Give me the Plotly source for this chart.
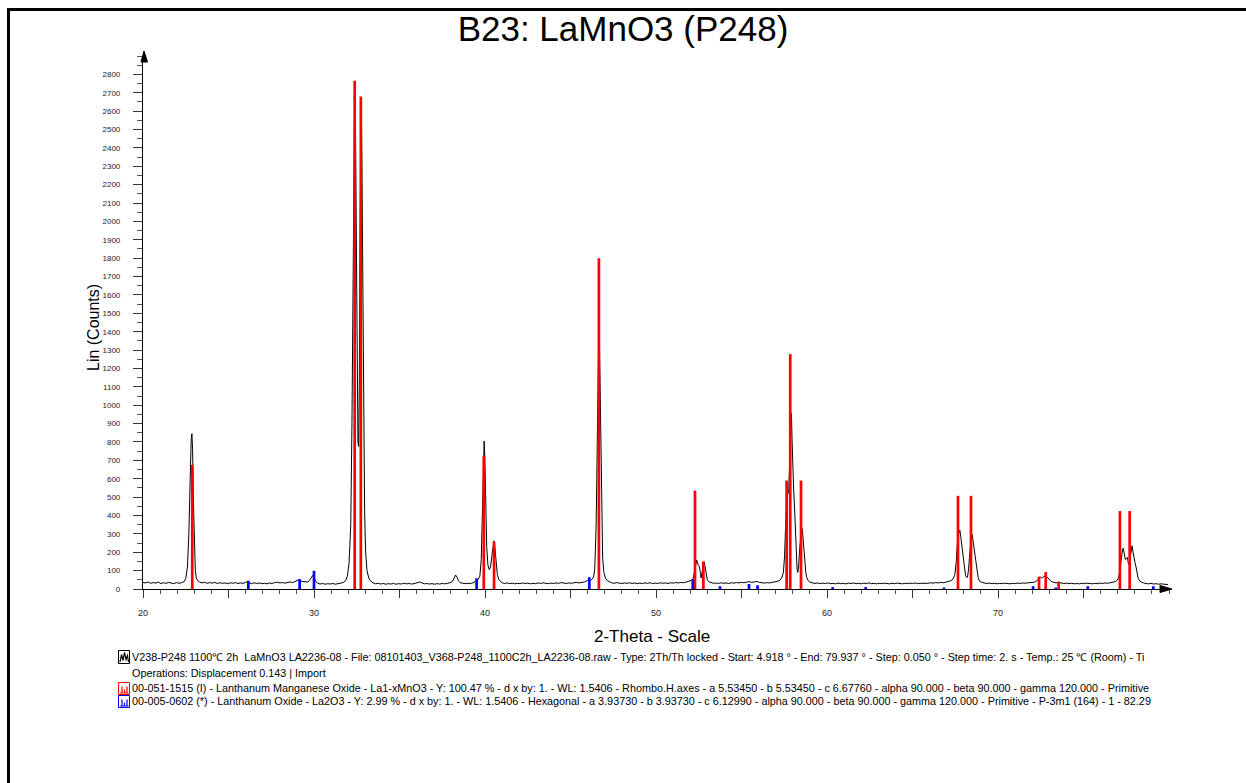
import plotly.graph_objects as go

# ---------------- data ----------------
# measured scan (2-theta, counts)
scan_points = [
    (20.00, 36), (20.15, 33), (20.30, 38), (20.45, 31), (20.60, 35), (20.75, 32), (20.90, 37), (21.05, 30),
    (21.20, 34), (21.35, 31), (21.50, 36), (21.65, 33), (21.80, 29), (21.95, 35), (22.10, 31), (22.25, 34),
    (22.40, 40), (22.50, 58), (22.60, 120), (22.68, 300), (22.75, 620), (22.82, 820), (22.86, 845), (22.90, 760),
    (22.95, 480), (23.00, 220), (23.06, 100), (23.12, 60), (23.20, 45), (23.30, 38), (23.45, 33), (23.60, 37),
    (23.75, 31), (23.90, 35), (24.05, 32), (24.20, 36), (24.35, 30), (24.50, 34), (24.65, 31), (24.80, 33),
    (24.95, 29), (25.10, 34), (25.25, 31), (25.40, 35), (25.55, 30), (25.70, 33), (25.85, 31), (26.00, 36),
    (26.10, 40), (26.20, 33), (26.35, 29), (26.50, 34), (26.65, 30), (26.80, 33), (26.95, 29), (27.10, 31),
    (27.25, 28), (27.40, 33), (27.55, 30), (27.70, 35), (27.85, 37), (28.00, 33), (28.15, 35), (28.30, 32),
    (28.45, 36), (28.60, 38), (28.75, 35), (28.90, 40), (29.00, 44), (29.10, 50), (29.20, 42), (29.35, 40),
    (29.50, 36), (29.65, 38), (29.75, 48), (29.85, 62), (29.93, 74), (30.00, 66), (30.08, 45), (30.20, 32),
    (30.35, 27), (30.50, 30), (30.65, 26), (30.80, 29), (30.95, 27), (31.10, 30), (31.25, 26), (31.40, 29),
    (31.55, 32), (31.70, 35), (31.85, 45), (31.95, 70), (32.05, 140), (32.15, 350), (32.22, 900), (32.28, 1800),
    (32.34, 2500), (32.38, 2745), (32.42, 2600), (32.47, 1900), (32.52, 1200), (32.57, 800), (32.61, 775),
    (32.65, 1100), (32.69, 1900), (32.73, 2550), (32.76, 2660), (32.80, 2350), (32.85, 1600), (32.90, 900),
    (32.96, 420), (33.02, 200), (33.10, 100), (33.20, 60), (33.32, 42), (33.45, 33), (33.60, 28), (33.75, 31),
    (33.90, 27), (34.05, 30), (34.20, 26), (34.35, 29), (34.50, 27), (34.65, 30), (34.80, 26), (34.95, 29),
    (35.10, 27), (35.25, 31), (35.40, 28), (35.55, 30), (35.70, 27), (35.85, 29), (36.00, 31), (36.10, 36),
    (36.20, 38), (36.30, 33), (36.45, 28), (36.60, 30), (36.75, 27), (36.90, 29), (37.05, 26), (37.20, 29),
    (37.35, 27), (37.50, 30), (37.65, 28), (37.80, 31), (37.95, 34), (38.10, 42), (38.20, 60), (38.28, 76),
    (38.36, 65), (38.45, 45), (38.55, 34), (38.70, 30), (38.85, 29), (39.00, 31), (39.15, 30), (39.30, 34),
    (39.40, 38), (39.50, 46), (39.60, 52), (39.70, 70), (39.78, 160), (39.85, 420), (39.91, 700), (39.95, 805),
    (39.99, 720), (40.04, 450), (40.10, 230), (40.17, 130), (40.25, 105), (40.32, 120), (40.40, 190),
    (40.47, 250), (40.52, 262), (40.57, 235), (40.64, 150), (40.72, 80), (40.80, 52), (40.90, 40), (41.00, 34),
    (41.15, 30), (41.30, 33), (41.45, 29), (41.60, 32), (41.75, 28), (41.90, 31), (42.05, 29), (42.20, 33),
    (42.35, 30), (42.50, 32), (42.65, 28), (42.80, 31), (42.95, 29), (43.10, 33), (43.25, 30), (43.40, 34),
    (43.55, 31), (43.70, 29), (43.85, 32), (44.00, 30), (44.15, 33), (44.30, 31), (44.45, 35), (44.60, 32),
    (44.75, 30), (44.90, 33), (45.05, 31), (45.20, 34), (45.35, 36), (45.50, 33), (45.65, 35), (45.80, 38),
    (45.95, 44), (46.05, 50), (46.15, 46), (46.25, 52), (46.35, 65), (46.42, 110), (46.50, 350), (46.57, 850),
    (46.62, 1300), (46.66, 1432), (46.70, 1300), (46.75, 900), (46.81, 420), (46.88, 170), (46.95, 90),
    (47.05, 58), (47.15, 45), (47.28, 38), (47.40, 34), (47.55, 31), (47.70, 35), (47.85, 32), (48.00, 30),
    (48.15, 33), (48.30, 31), (48.45, 34), (48.60, 30), (48.75, 33), (48.90, 29), (49.05, 32), (49.20, 30),
    (49.35, 33), (49.50, 31), (49.65, 34), (49.80, 30), (49.95, 32), (50.10, 30), (50.25, 34), (50.40, 31),
    (50.55, 33), (50.70, 30), (50.85, 34), (51.00, 32), (51.15, 35), (51.30, 33), (51.45, 36), (51.60, 34),
    (51.75, 37), (51.90, 40), (52.00, 43), (52.10, 48), (52.18, 60), (52.25, 95), (52.32, 140), (52.38, 158),
    (52.45, 135), (52.54, 121), (52.60, 85), (52.64, 60), (52.70, 95), (52.76, 140), (52.81, 148), (52.87, 120),
    (52.94, 75), (53.00, 50), (53.08, 40), (53.20, 34), (53.35, 31), (53.50, 33), (53.65, 30), (53.80, 34),
    (53.95, 31), (54.10, 33), (54.25, 30), (54.40, 34), (54.55, 32), (54.70, 35), (54.85, 33), (55.00, 36),
    (55.15, 34), (55.30, 37), (55.45, 40), (55.60, 36), (55.75, 38), (55.90, 41), (56.05, 36), (56.20, 34),
    (56.35, 32), (56.50, 35), (56.65, 33), (56.80, 36), (56.95, 38), (57.10, 42), (57.25, 48), (57.35, 60),
    (57.45, 90), (57.52, 180), (57.58, 350), (57.64, 480), (57.70, 515), (57.76, 525), (57.82, 700),
    (57.88, 930), (57.92, 957), (57.96, 800), (58.00, 640), (58.05, 540), (58.10, 447), (58.15, 300),
    (58.20, 170), (58.25, 105), (58.29, 90), (58.34, 120), (58.40, 220), (58.47, 300), (58.53, 332),
    (58.58, 300), (58.64, 230), (58.70, 150), (58.76, 90), (58.82, 62), (58.90, 45), (59.00, 37), (59.15, 33),
    (59.30, 30), (59.45, 33), (59.60, 29), (59.75, 32), (59.90, 30), (60.05, 33), (60.20, 29), (60.35, 31),
    (60.50, 28), (60.65, 32), (60.80, 29), (60.95, 31), (61.10, 28), (61.25, 32), (61.40, 30), (61.55, 33),
    (61.70, 29), (61.85, 31), (62.00, 28), (62.15, 32), (62.30, 30), (62.45, 33), (62.60, 29), (62.75, 31),
    (62.90, 28), (63.05, 31), (63.20, 29), (63.35, 32), (63.50, 30), (63.65, 28), (63.80, 31), (63.95, 29),
    (64.10, 32), (64.25, 30), (64.40, 28), (64.55, 31), (64.70, 29), (64.85, 32), (65.00, 30), (65.15, 33),
    (65.30, 29), (65.45, 31), (65.60, 30), (65.75, 33), (65.90, 31), (66.05, 34), (66.20, 32), (66.35, 35),
    (66.50, 33), (66.65, 36), (66.80, 34), (66.95, 37), (67.10, 40), (67.25, 45), (67.38, 55), (67.48, 80),
    (67.56, 150), (67.63, 260), (67.70, 300), (67.77, 320), (67.83, 280), (67.90, 220), (67.97, 168),
    (68.03, 120), (68.10, 75), (68.17, 62), (68.22, 65), (68.28, 110), (68.35, 200), (68.42, 270), (68.49, 296),
    (68.56, 250), (68.63, 200), (68.70, 175), (68.77, 110), (68.84, 62), (68.92, 43), (69.05, 36), (69.20, 33),
    (69.35, 30), (69.50, 32), (69.65, 29), (69.80, 31), (69.95, 28), (70.10, 31), (70.25, 29), (70.40, 32),
    (70.55, 30), (70.70, 28), (70.85, 31), (71.00, 29), (71.15, 32), (71.30, 30), (71.45, 33), (71.60, 31),
    (71.75, 34), (71.90, 33), (72.05, 36), (72.15, 38), (72.25, 42), (72.32, 50), (72.40, 62), (72.48, 65),
    (72.55, 60), (72.62, 64), (72.70, 70), (72.78, 72), (72.86, 66), (72.94, 58), (73.02, 48), (73.10, 42),
    (73.20, 38), (73.30, 35), (73.40, 33), (73.55, 36), (73.70, 32), (73.85, 30), (74.00, 32), (74.15, 29),
    (74.30, 31), (74.45, 28), (74.60, 30), (74.75, 28), (74.90, 31), (75.05, 29), (75.20, 32), (75.35, 30),
    (75.50, 28), (75.65, 31), (75.80, 29), (75.95, 32), (76.10, 30), (76.25, 33), (76.40, 31), (76.55, 34),
    (76.70, 36), (76.85, 40), (76.95, 46), (77.05, 60), (77.13, 100), (77.20, 160), (77.26, 200), (77.32, 222),
    (77.38, 200), (77.45, 160), (77.50, 165), (77.56, 172), (77.62, 140), (77.67, 130), (77.73, 170),
    (77.79, 225), (77.84, 235), (77.90, 200), (77.96, 160), (78.01, 145), (78.07, 120), (78.13, 85),
    (78.20, 58), (78.30, 42), (78.40, 36), (78.50, 33), (78.65, 30), (78.80, 28), (78.95, 31), (79.10, 27),
    (79.25, 29), (79.40, 26), (79.55, 28), (79.70, 25), (79.85, 26), (79.94, 24),
]
scan_2theta = [p[0] for p in scan_points]
scan_counts = [p[1] for p in scan_points]

# 00-051-1515 Lanthanum Manganese Oxide (red sticks)
lmo_2theta = [22.88, 32.38, 32.74, 39.93, 40.53, 46.66, 52.28, 52.77, 57.64, 57.85, 58.48,
              67.66, 68.42, 72.40, 72.79, 73.55, 77.13, 77.70]
lmo_counts = [675, 2765, 2680, 725, 257, 1800, 535, 150, 590, 1278, 590,
              507, 507, 67, 92, 40, 424, 424]

# 00-005-0602 Lanthanum Oxide (blue sticks)
lao_2theta = [26.16, 29.16, 30.00, 39.51, 46.10, 52.15, 53.74, 55.44, 55.94, 60.33, 62.26,
              66.84, 72.05, 73.38, 75.25, 79.08]
lao_counts = [45, 54, 99, 58, 64, 53, 15, 27, 20, 10, 10, 8, 15, 8, 15, 15]

x_major_ticks = [20, 25, 30, 35, 40, 45, 50, 55, 60, 65, 70, 75]
x_major_labels = ["20", "", "30", "", "40", "", "50", "", "60", "", "70", ""]
y_ticks = list(range(0, 2900, 100))
y_labels = [str(v) for v in y_ticks]

title_text = "B23: LaMnO3 (P248)"
legend_lines = [
    "V238-P248 1100\u2103 2h\u00a0 LaMnO3 LA2236-08 - File: 08101403_V368-P248_1100C2h_LA2236-08.raw - Type: 2Th/Th locked - Start: 4.918 \u00b0 - End: 79.937 \u00b0 - Step: 0.050 \u00b0 - Step time: 2. s - Temp.: 25 \u2103 (Room) - Ti",
    "Operations: Displacement 0.143 | Import",
    "00-051-1515 (I) - Lanthanum Manganese Oxide - La1-xMnO3 - Y: 100.47 % - d x by: 1. - WL: 1.5406 - Rhombo.H.axes - a 5.53450 - b 5.53450 - c 6.67760 - alpha 90.000 - beta 90.000 - gamma 120.000 - Primitive",
    "00-005-0602 (*) - Lanthanum Oxide - La2O3 - Y: 2.99 % - d x by: 1. - WL: 1.5406 - Hexagonal - a 3.93730 - b 3.93730 - c 6.12990 - alpha 90.000 - beta 90.000 - gamma 120.000 - Primitive - P-3m1 (164) - 1 - 82.29",
]

# ---------------- layout geometry ----------------
W, H = 1246, 783
L, R, T, B = 143, 77, 56, 194
PW = W - L - R
PH = H - T - B


def px(x):
    return (x - L) / PW


def py(y):
    return 1 - (y - T) / PH


def sticks(pos, val):
    xs, ys = [], []
    for p, v in zip(pos, val):
        xs += [p, p, None]
        ys += [0, v, None]
    return xs, ys


FONT = "Liberation Sans, Arial, sans-serif"

fig = go.Figure()
fig.add_trace(go.Scatter(x=scan_2theta, y=scan_counts, mode="lines",
                         line=dict(color="black", width=1), hoverinfo="skip"))
rx, ry = sticks(lmo_2theta, lmo_counts)
fig.add_trace(go.Scatter(x=rx, y=ry, mode="lines", line=dict(color="#ff0000", width=2.7),
                         connectgaps=False, hoverinfo="skip"))
bx, by = sticks(lao_2theta, lao_counts)
fig.add_trace(go.Scatter(x=bx, y=by, mode="lines", line=dict(color="#0000ff", width=2.7),
                         connectgaps=False, hoverinfo="skip"))

shapes = []
# outer frame (left and top edges visible)
shapes.append(dict(type="line", xref="paper", yref="paper", x0=px(8.5), y0=py(790), x1=px(8.5), y1=py(9.5),
                   line=dict(color="black", width=3)))
shapes.append(dict(type="line", xref="paper", yref="paper", x0=px(7), y0=py(9.5), x1=px(1250), y1=py(9.5),
                   line=dict(color="black", width=3)))
# axis arrows
shapes.append(dict(type="path", xref="paper", yref="paper",
                   path=f"M {px(141)} {py(62)} L {px(144)} {py(51)} L {px(147.5)} {py(62)} Z",
                   fillcolor="black", line=dict(color="black", width=1)))
shapes.append(dict(type="path", xref="paper", yref="paper",
                   path=f"M {px(1160)} {py(585.5)} L {px(1172)} {py(589)} L {px(1160)} {py(592.5)} Z",
                   fillcolor="black", line=dict(color="black", width=1)))

# legend icons
icon_x0, icon_x1 = 118.5, 129.5
icon_rows = [(650.5, 663.5, "black", "wave"), (682.5, 694.5, "#ff0000", "sticks"), (695.5, 707.5, "#0000ff", "sticks")]
for y0, y1, col, kind in icon_rows:
    shapes.append(dict(type="rect", xref="paper", yref="paper", x0=px(icon_x0), x1=px(icon_x1),
                       y0=py(y1), y1=py(y0), line=dict(color=col, width=1), fillcolor="rgba(0,0,0,0)"))
    if kind == "wave":
        pts = [(120, y1 - 1.5), (121.5, y0 + 4), (123, y1 - 3), (124.5, y0 + 2), (126, y1 - 4), (127.5, y0 + 5), (128.5, y1 - 1.5)]
        path = "M " + " L ".join(f"{px(a)} {py(b)}" for a, b in pts)
    else:
        yb = y1 - 1.5
        path = (f"M {px(120)} {py(yb)} L {px(128.5)} {py(yb)} "
                f"M {px(122)} {py(yb)} L {px(122)} {py(y0 + 4)} "
                f"M {px(124.5)} {py(yb)} L {px(124.5)} {py(y0 + 7)} "
                f"M {px(127)} {py(yb)} L {px(127)} {py(y0 + 4)}")
    shapes.append(dict(type="path", xref="paper", yref="paper", path=path,
                       line=dict(color=col, width=1.2)))

annotations = []
annotations.append(dict(text="Lin (Counts)", textangle=-90, xref="paper", yref="paper",
                        x=px(93), y=py(328), showarrow=False, xanchor="center", yanchor="middle",
                        font=dict(family=FONT, size=16, color="black")))
annotations.append(dict(text="2-Theta - Scale", xref="paper", yref="paper",
                        x=px(652), y=py(636), showarrow=False, xanchor="center", yanchor="middle",
                        font=dict(family=FONT, size=17, color="black")))
legend_y = [657, 673, 688, 701]
for txt, yy in zip(legend_lines, legend_y):
    annotations.append(dict(text=txt, xref="paper", yref="paper", x=px(130), y=py(yy),
                            showarrow=False, xanchor="left", yanchor="middle",
                            font=dict(family=FONT, size=10.8, color="black")))

fig.update_layout(
    width=W, height=H,
    margin=dict(l=L, r=R, t=T, b=B, autoexpand=False),
    paper_bgcolor="white", plot_bgcolor="white",
    showlegend=False,
    font=dict(family=FONT, color="black"),
    title=dict(text=title_text, x=0.5, xref="container", xanchor="center",
               y=1 - 29 / H, yref="container", yanchor="middle",
               font=dict(family=FONT, size=35, color="black")),
    xaxis=dict(range=[20, 80], showline=True, linecolor="black", linewidth=1.2,
               showgrid=False, zeroline=False, ticks="outside", tickvals=x_major_ticks,
               ticktext=x_major_labels, ticklen=8, tickwidth=1, tickcolor="#333",
               tickfont=dict(family=FONT, size=9, color="#222"), ticklabelstandoff=7,
               minor=dict(tick0=20, dtick=1, ticks="outside", ticklen=4, tickwidth=1, tickcolor="#555")),
    yaxis=dict(range=[0, 2900], showline=True, linecolor="black", linewidth=1.2,
               showgrid=False, zeroline=False, ticks="outside", tickvals=y_ticks,
               ticktext=y_labels, ticklen=9, tickwidth=1, tickcolor="#333",
               tickfont=dict(family=FONT, size=8, color="#222"), ticklabelstandoff=11,
               minor=dict(tick0=0, dtick=50, ticks="outside", ticklen=5, tickwidth=1, tickcolor="#555")),
    shapes=shapes,
    annotations=annotations,
)

fig.write_html("out.html")
